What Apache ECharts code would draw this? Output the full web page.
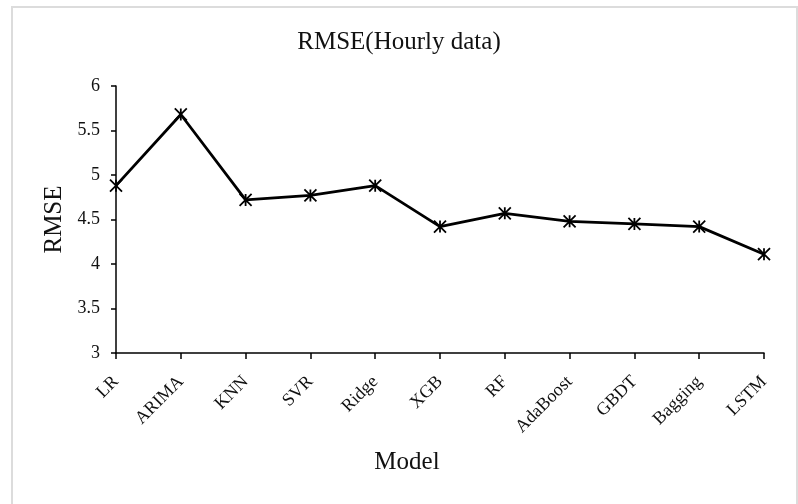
<!DOCTYPE html>
<html>
<head>
<meta charset="utf-8">
<script src="https://cdn.jsdelivr.net/npm/echarts@6/dist/echarts.min.js"></script>
<style>
  html, body { margin: 0; padding: 0; background: #fff; }
  #main { width: 798px; height: 504px; }
</style>
</head>
<body>
<div id="main"></div>
<script>
var models = ['LR', 'ARIMA', 'KNN', 'SVR', 'Ridge', 'XGB', 'RF', 'AdaBoost', 'GBDT', 'Bagging', 'LSTM'];
var rmse = [4.88, 5.68, 4.72, 4.77, 4.88, 4.42, 4.57, 4.48, 4.45, 4.42, 4.11];

var serif = "'Liberation Serif', 'Times New Roman', serif";

var myChart = echarts.init(document.getElementById('main'));
var option = {
  backgroundColor: '#fff',
  animation: false,
  title: {
    text: 'RMSE(Hourly data)',
    left: 'center',
    top: 25,
    padding: [5, 0, 5, 10],
    textStyle: { fontFamily: serif, fontSize: 25, fontWeight: 'normal', color: '#111' }
  },
  graphic: [{
    type: 'rect',
    shape: { x: 12, y: 7, width: 785, height: 510 },
    style: { fill: 'none', stroke: '#dcdcdc', lineWidth: 2 },
    silent: true
  }],
  grid: { left: 116, right: 34, top: 86, bottom: 151 },
  xAxis: {
    type: 'category',
    data: models,
    boundaryGap: false,
    name: 'Model',
    nameLocation: 'middle',
    nameGap: 97,
    nameTextStyle: { fontFamily: serif, fontSize: 25, color: '#111', padding: [0, 66, 0, 0] },
    axisLine: { lineStyle: { color: '#000', width: 1.5 } },
    axisTick: { alignWithLabel: true, length: 6, lineStyle: { color: '#000', width: 1.5 } },
    axisLabel: { rotate: 45, margin: 26, fontFamily: serif, fontSize: 18, color: '#111', interval: 0 },
    splitLine: { show: false }
  },
  yAxis: {
    type: 'value',
    min: 3,
    max: 6,
    interval: 0.5,
    name: 'RMSE',
    nameLocation: 'middle',
    nameGap: 49,
    nameTextStyle: { fontFamily: serif, fontSize: 25, color: '#111' },
    axisLine: { show: true, lineStyle: { color: '#000', width: 1.5 } },
    axisTick: { show: true, length: 5, lineStyle: { color: '#000', width: 1.5 } },
    axisLabel: { margin: 16, fontFamily: serif, fontSize: 18, color: '#111' },
    splitLine: { show: false }
  },
  series: [{
    type: 'line',
    data: rmse,
    symbol: 'path://M0,-1 L0,1 M-1,-1 L1,1 M-1,1 L1,-1',
    symbolSize: 12,
    itemStyle: { color: '#000', borderColor: '#000', borderWidth: 1.8 },
    lineStyle: { color: '#000', width: 2.8 }
  }]
};
myChart.setOption(option, true);
</script>
</body>
</html>
